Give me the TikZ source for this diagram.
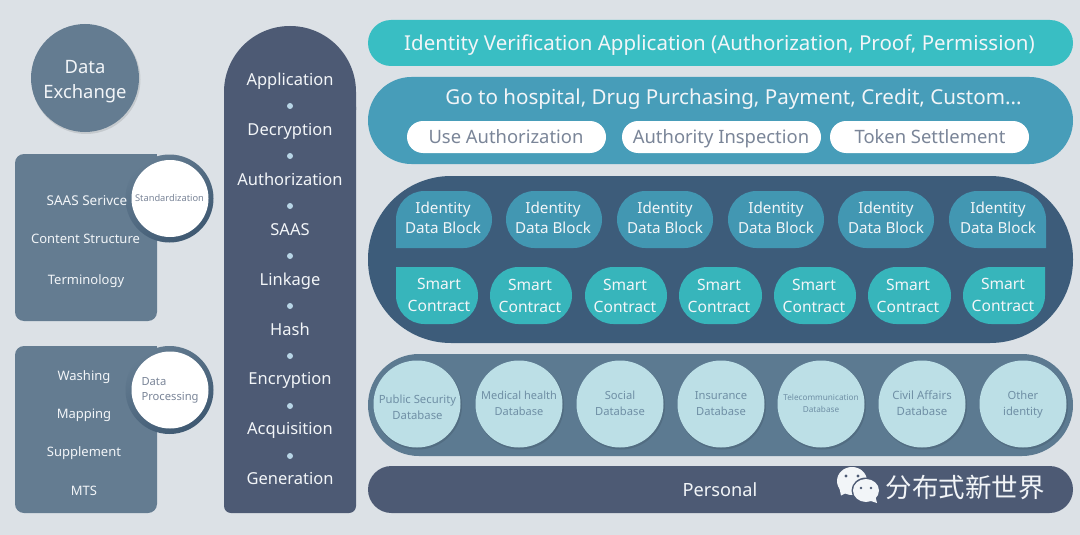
\documentclass[tikz,border=0pt]{standalone}
\usepackage{fontspec}
\setmainfont{Noto Sans}
\newfontfamily\cjkface{Noto Sans CJK SC}
\definecolor{pagebg}{HTML}{DCE1E6}
\definecolor{slate}{HTML}{647C91}
\definecolor{slatedark}{HTML}{3F5972}
\definecolor{navy}{HTML}{4D5A74}
\definecolor{teal}{HTML}{39BEC3}
\definecolor{bluegreen}{HTML}{479DB9}
\definecolor{deepblue}{HTML}{3D5C7A}
\definecolor{blockc}{HTML}{4297B2}
\definecolor{contractc}{HTML}{37B5BB}
\definecolor{dbshell}{HTML}{5C7A91}
\definecolor{dbc}{HTML}{BCDFE6}
\definecolor{dbtext}{HTML}{6F8FA5}
\definecolor{greytext}{HTML}{7A8598}
\definecolor{softwhite}{HTML}{F2F5F8}
\definecolor{dotc}{HTML}{B8D5E6}
\newcommand{\fs}[2]{\fontsize{#1}{#2}\selectfont}
\tikzset{
  txt/.style={inner sep=0pt,outer sep=0pt,align=center,text=softwhite,anchor=base},
  dbcircle/.style={circle,fill=dbc,minimum size=87pt,inner sep=0pt},
  dbt/.style={txt,text=dbtext,font=\fs{#1}{15.6}},
  pillwhite/.style={fill=white,rounded corners=16pt},
  softshadow/.style={fill=black,opacity=.10},
  lefttext/.style={txt,font=\fs{13}{15}},
  coltext/.style={txt,font=\fs{16.5}{20}},
  pilltext/.style={txt,text=greytext,font=\fs{18.4}{21}},
}
\begin{document}
\begin{tikzpicture}[x=1pt,y=-1pt]
\useasboundingbox (0,0) rectangle (1080,535);
\fill[pagebg] (0,0) rectangle (1080,535);

% Data Exchange
\fill[softshadow] (86,79.5) circle (54.5);
\node[circle,fill=slate,minimum size=108pt,inner sep=0pt] (exch) at (85,78) {};
\node[txt,font=\fs{18.4}{25}] (exch1) at (85,99) {Data\\Exchange};

% Left panels
\foreach \ty/\cy/\nm in {154/198.5/a,346/390/b}{
  \fill[slate,rounded corners=9pt] (15,\ty) rectangle (157,\ty+167);
  \fill[slate] (140,\ty) rectangle (157,\ty+30);
  \shade[top color=slate,bottom color=slatedark,shading angle=35] (169.5,\cy) circle (44);
  \node[circle,fill=white,minimum size=77pt,inner sep=0pt] (circ\nm) at (170,\cy) {};
}
\node[lefttext,font=\fs{13.5}{15}] (l1) at (87,205) {SAAS Serivce};
\node[lefttext] (l2) at (85.5,243.3) {Content Structure};
\node[lefttext] (l3) at (86,284.3) {Terminology};
\node[txt,text=greytext,font=\fs{9.3}{11}] (std) at (169.5,201) {Standardization};
\node[lefttext] (m1) at (84,380) {Washing};
\node[lefttext] (m2) at (84,418.3) {Mapping};
\node[lefttext] (m3) at (84,456.7) {Supplement};
\node[lefttext] (m4) at (84,495) {MTS};
\node[txt,text=greytext,anchor=base west,font=\fs{11.2}{13}] (dp1) at (141.5,385) {Data};
\node[txt,text=greytext,anchor=base west,font=\fs{11.2}{13}] (dp2) at (141.5,400.7) {Processing};

% Central column
\fill[navy,rounded corners=7pt] (224,100) -- (224,513) -- (356,513) -- (356,100) -- cycle;
\fill[navy] (224,110) -- (224,92) .. controls (224,55.5) and (253.5,26) .. (290,26) .. controls (326.5,26) and (356,55.5) .. (356,92) -- (356,110) -- cycle;
\foreach \lab [count=\i from 0] in {Application,Decryption,Authorization,SAAS,Linkage,Hash,Encryption,Acquisition,Generation}{
  \node[coltext] (col\i) at (290,86+\i*49.8) {\lab};
}
\foreach \i in {0,...,7}{
  \fill[dotc] (290,106+\i*50) circle (3);
}

% Top bars
\fill[teal,rounded corners=23pt] (368,20) rectangle (1073,66);
\node[txt,font=\fs{20.5}{24}] (title) at (719.5,50.7) {Identity Verification Application (Authorization, Proof, Permission)};
\fill[bluegreen,rounded corners=43.5pt] (368,77) rectangle (1073,164);
\node[txt,font=\fs{20.6}{24}] (go) at (733.5,104.3) {Go to hospital, Drug Purchasing, Payment, Credit, Custom...};
\fill[pillwhite] (407,121) rectangle (606,153);
\fill[pillwhite] (622,121) rectangle (821,153);
\fill[pillwhite] (830,121) rectangle (1029,153);
\node[pilltext] (p1) at (506,143.3) {Use Authorization};
\node[pilltext] (p2) at (721,143.3) {Authority Inspection};
\node[pilltext] (p3) at (930,143.3) {Token Settlement};

% Block shell
\fill[deepblue,rounded corners=83pt] (368,176) rectangle (1073,343);
% block row
\fill[blockc] (396,248) -- (396,219.5) .. controls (396,203.76) and (408.76,191) .. (424.5,191) -- (463.5,191) .. controls (479.24,191) and (492,203.76) .. (492,219.5) .. controls (492,235.24) and (479.24,248) .. (463.5,248) -- cycle;
\foreach \a/\b in {506/602,617/713,728/824,838/934}{
  \fill[blockc,rounded corners=28.5pt] (\a,191) rectangle (\b,248);
}
\fill[blockc] (1046,248) -- (1046,219.5) .. controls (1046,203.76) and (1033.24,191) .. (1017.5,191) -- (977.5,191) .. controls (961.76,191) and (949,203.76) .. (949,219.5) .. controls (949,235.24) and (961.76,248) .. (977.5,248) -- cycle;
\foreach \x [count=\i] in {443,553,665,776,886,998}{
  \node[txt,font=\fs{15.2}{20.3}] (blk\i) at (\x,233.3) {Identity\\Data Block};
}
% contract row
\fill[contractc] (396,267) -- (449.5,267) .. controls (465.24,267) and (478,279.76) .. (478,295.5) .. controls (478,311.24) and (465.24,324) .. (449.5,324) -- (424.5,324) .. controls (408.76,324) and (396,311.24) .. (396,295.5) -- cycle;
\foreach \a/\b in {490/572,585/667,679/762,774/856,868/951}{
  \fill[contractc,rounded corners=28.5pt] (\a,267) rectangle (\b,324);
}
\fill[contractc] (1045,267) -- (991.5,267) .. controls (975.76,267) and (963,279.76) .. (963,295.5) .. controls (963,311.24) and (975.76,324) .. (991.5,324) -- (1016.5,324) .. controls (1032.24,324) and (1045,311.24) .. (1045,295.5) -- cycle;
\foreach \x/\y [count=\i] in {439/311.7,530/312.7,625/312.7,719/312.7,814/312.7,908/312.7,1003/311.7}{
  \node[txt,font=\fs{15.6}{22.5}] (ctr\i) at (\x,\y) {Smart\\Contract};
}

% Database shell
\fill[dbshell,rounded corners=51pt] (368,354) rectangle (1073,456);
\foreach \x in {417,519,620,721,821,922,1023}{
  \fill[softshadow] (\x+1,405.5) circle (44);
}
\node[dbcircle] (db1) at (417,404) {};
\node[dbcircle] (db2) at (519,404) {};
\node[dbcircle] (db3) at (620,404) {};
\node[dbcircle] (db4) at (721,404) {};
\node[dbcircle] (db5) at (821,404) {};
\node[dbcircle] (db6) at (922,404) {};
\node[dbcircle] (db7) at (1023,404) {};
\node[dbt=11.3] (dt1) at (417.5,419) {Public Security\\Database};
\node[dbt=11] (dt2) at (519,415) {Medical health\\Database};
\node[dbt=11.2] (dt3) at (620,415) {Social\\Database};
\node[dbt=11.2] (dt4) at (721,415) {Insurance\\Database};
\node[txt,text=dbtext,font=\fs{8.2}{12}] (dt5) at (821,412) {Telecommunication\\Database};
\node[dbt=11.4] (dt6) at (922,415) {Civil Affairs\\Database};
\node[dbt=11.2] (dt7) at (1023,415) {Other\\identity};

% Personal bar
\fill[navy,rounded corners=23.5pt] (368,466) rectangle (1073,513);
\node[txt,font=\fs{18.2}{20}] (pers) at (720,496.7) {Personal};

% Watermark
\fill[softwhite] (839,486) -- (841,495.5) -- (848,492) -- cycle;
\fill[softwhite] (852,481) ellipse[x radius=15,y radius=14];
\fill[navy] (866,490.5) ellipse[x radius=14.5,y radius=13];
\fill[softwhite] (875,495) -- (877,503) -- (868,500) -- cycle;
\fill[softwhite] (866,490.5) ellipse[x radius=13,y radius=11.5];
\fill[navy] (846,476) circle (1.6) (858,476) circle (1.6) (861,488) circle (1.3) (871,488) circle (1.3);
\node[txt,anchor=center,font=\cjkface\fs{26.5}{30}] (wm) at (965,487) {分布式新世界};
\end{tikzpicture}
\end{document}
